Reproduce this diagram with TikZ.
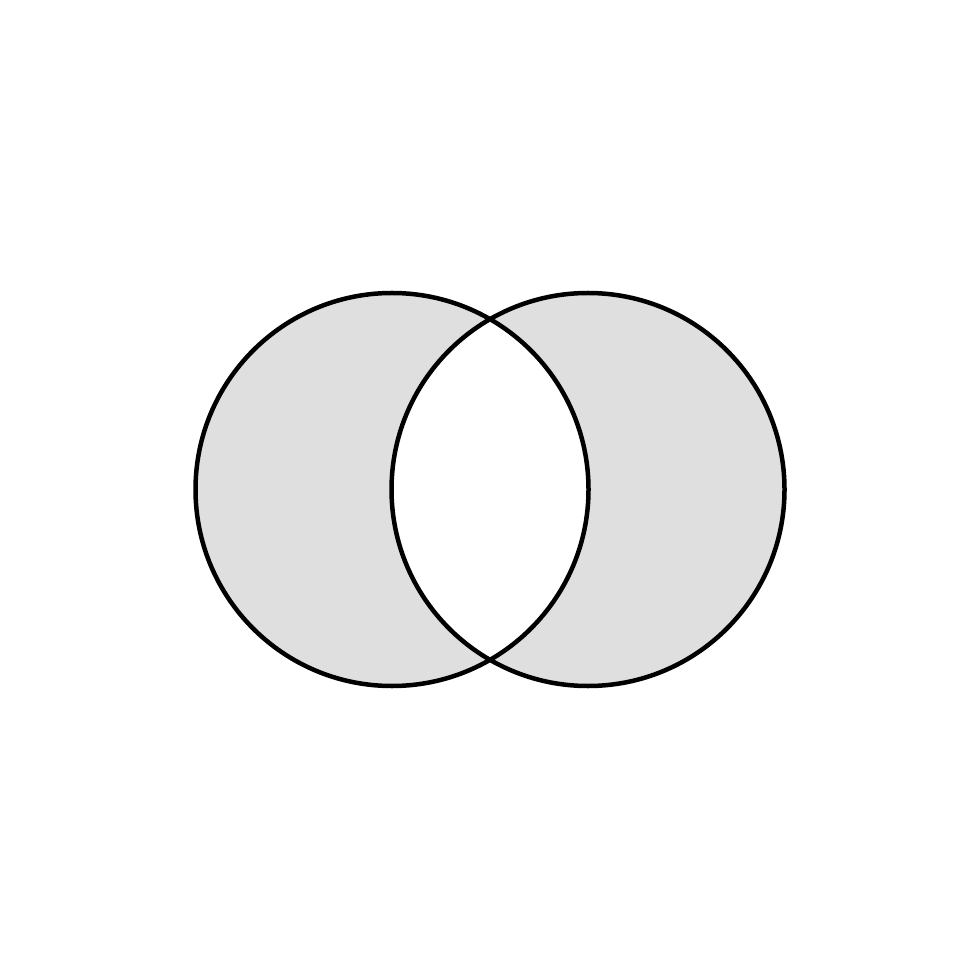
\documentclass[tikz,border=0pt]{standalone}
\begin{document}
\begin{tikzpicture}[x=0.01cm,y=-0.01cm]
\tikzset{ring/.style={draw=black,line width=0.045cm}}
\useasboundingbox (0,0) rectangle (980,980);
\fill[white] (0,0) rectangle (980,980);
\fill[gray!25,even odd rule] (392,489.5) circle (196.5) (588,489.5) circle (196.5);
\coordinate (cl) at (392,489.5);
\coordinate (cr) at (588,489.5);
\draw[ring] (cl) circle (196.5);
\draw[ring] (cr) circle (196.5);
\end{tikzpicture}
\end{document}
